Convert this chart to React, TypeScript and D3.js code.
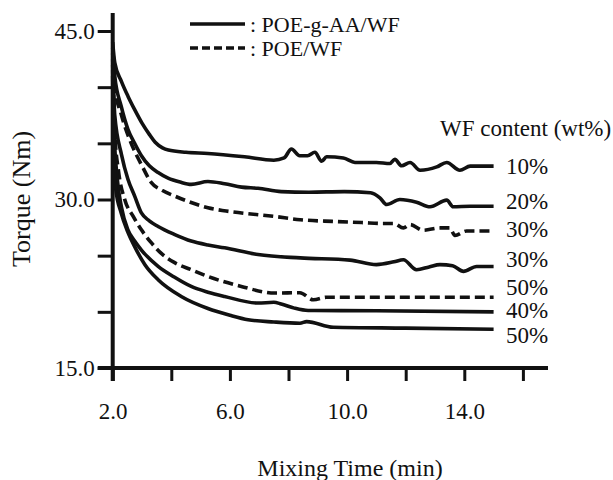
import { useEffect, useRef } from 'react';
import * as d3 from 'd3';

// mixing time (min) / torque (Nm)
const t10 = [2, 2.07, 2.3, 2.52, 2.75, 3.0, 3.25, 3.45, 3.7, 3.9, 4.5, 5.25, 6.5, 7.5, 7.85, 8.1, 8.38, 8.65, 8.9, 9.13, 9.3, 9.87, 10.27, 11.0, 11.46, 11.63, 11.86, 12.15, 12.49, 13.06, 13.4, 13.85, 14.2, 15];
const v10 = [44.0, 42.2, 40.5, 39.2, 38.0, 36.8, 35.8, 35.1, 34.6, 34.4, 34.2, 34.1, 33.8, 33.5, 33.7, 34.5, 33.9, 33.9, 34.2, 33.4, 33.8, 33.7, 33.3, 33.3, 33.2, 33.57, 33.0, 33.3, 32.6, 32.9, 33.3, 32.6, 32.97, 32.97];

const t20 = [2, 2.07, 2.29, 2.52, 2.75, 2.98, 3.25, 3.55, 3.89, 4.3, 4.68, 5.25, 5.82, 6.4, 6.96, 7.75, 8.7, 9.9, 10.8, 11.12, 11.35, 11.8, 12.37, 12.83, 13.4, 13.62, 14.2, 15];
const v20 = [43.5, 41.0, 38.3, 36.25, 35.0, 33.9, 33.0, 32.4, 31.9, 31.55, 31.35, 31.6, 31.4, 31.1, 31.0, 30.7, 30.65, 30.7, 30.6, 30.15, 29.55, 30.0, 29.76, 29.35, 29.94, 29.35, 29.4, 29.4];

const t30d = [2, 2.07, 2.3, 2.6, 3.0, 3.32, 3.7, 4.12, 4.6, 5.25, 5.8, 6.4, 7.5, 8.4, 9.5, 10.5, 11.24, 11.6, 11.92, 12.15, 12.6, 13.17, 13.5, 13.68, 14.08, 15];
const v30d = [43.0, 40.0, 37.5, 35.2, 33.0, 31.5, 30.8, 30.3, 29.8, 29.26, 29.0, 28.8, 28.5, 28.2, 28.05, 27.95, 27.86, 27.86, 27.47, 27.77, 27.26, 27.47, 27.47, 26.8, 27.2, 27.2];

const t30 = [2, 2.07, 2.3, 2.52, 2.75, 2.98, 3.25, 3.55, 4.1, 4.68, 5.25, 5.82, 6.96, 8.4, 10.1, 11.0, 11.6, 11.92, 12.37, 12.8, 13.17, 13.6, 13.97, 14.42, 15];
const v30 = [42.5, 37.5, 34.0, 31.8, 30.3, 28.8, 28.1, 27.6, 26.9, 26.3, 25.95, 25.7, 25.1, 24.8, 24.6, 24.2, 24.45, 24.64, 23.75, 24.0, 24.2, 24.1, 23.6, 24.04, 24.04];

const t50d = [2, 2.07, 2.2, 2.41, 2.7, 2.98, 3.3, 3.66, 4.1, 4.68, 5.25, 6.39, 7.53, 8.39, 8.85, 9.3, 12, 15];
const v50d = [42.0, 36.0, 32.5, 30.0, 28.5, 27.3, 26.2, 25.2, 24.4, 23.75, 23.15, 22.26, 21.67, 21.7, 21.07, 21.3, 21.3, 21.3];

const t40 = [2, 2.05, 2.15, 2.3, 2.52, 2.75, 2.98, 3.55, 4.1, 4.68, 5.25, 5.82, 6.96, 7.5, 7.75, 8.2, 8.67, 11, 15];
const v40 = [41.5, 36.0, 32.0, 29.3, 27.3, 26.3, 25.5, 24.05, 23.1, 22.26, 21.75, 21.37, 20.78, 20.85, 20.7, 20.33, 20.12, 20.1, 20.0];

const t50 = [2, 2.04, 2.1, 2.29, 2.5, 2.75, 3.1, 3.55, 4.34, 5.25, 6.0, 6.62, 7.5, 8.39, 8.62, 9.53, 12, 15];
const v50 = [41.0, 34.0, 31.0, 28.8, 27.2, 25.8, 24.2, 22.86, 21.37, 20.3, 19.7, 19.3, 19.1, 18.99, 19.13, 18.63, 18.55, 18.45];

// right-hand labels and where they sit (torque units)
const contentLabels = ['10%', '20%', '30%', '30%', '50%', '40%', '50%'];
const labelTorque = [32.95, 29.82, 27.32, 24.64, 22.14, 20.09, 17.86];

const xTicks = [2, 4, 6, 8, 10, 12, 14, 16];
const xTickLabels = [2, 6, 10, 14];
const yTicks = [15, 20, 25, 30, 35, 40, 45];
const yTickLabels = [15, 30, 45];

const FONT = '"Liberation Serif", "Times New Roman", serif';
const INK = '#111';

const series = [
  { t: t10, v: v10, dashed: false },
  { t: t20, v: v20, dashed: false },
  { t: t30d, v: v30d, dashed: true },
  { t: t30, v: v30, dashed: false },
  { t: t50d, v: v50d, dashed: true },
  { t: t40, v: v40, dashed: false },
  { t: t50, v: v50, dashed: false },
];

export default function App() {
  const xAxisRef = useRef<SVGGElement>(null);
  const yAxisRef = useRef<SVGGElement>(null);

  const x = d3.scaleLinear().domain([2, 16]).range([112.7, 522.9]);
  const y = d3.scaleLinear().domain([15, 45]).range([368, 31]);

  const line = d3
    .line<[number, number]>()
    .x((d) => x(d[0]))
    .y((d) => y(d[1]))
    .curve(d3.curveMonotoneX);

  useEffect(() => {
    const gx = d3.select(xAxisRef.current);
    gx.selectAll('*').remove();
    gx.call(
      d3
        .axisBottom(x)
        .tickValues(xTicks)
        .tickSize(13)
        .tickSizeOuter(0)
        .tickPadding(22)
        .tickFormat((d: any) => (xTickLabels.includes(d) ? d.toFixed(1) : ''))
    );
    gx.select('.domain').remove();
    gx.selectAll('line').attr('stroke', INK).attr('stroke-width', 3);
    gx.selectAll('text').attr('font-family', FONT).attr('font-size', 23).attr('fill', INK);

    const gy = d3.select(yAxisRef.current);
    gy.selectAll('*').remove();
    gy.call(
      d3
        .axisLeft(y)
        .tickValues(yTicks)
        .tickSize(15)
        .tickSizeOuter(0)
        .tickPadding(3)
        .tickFormat((d: any) => (yTickLabels.includes(d) ? d.toFixed(1) : ''))
    );
    gy.select('.domain').remove();
    gy.selectAll('line').attr('stroke', INK).attr('stroke-width', 3);
    gy.selectAll('text').attr('font-family', FONT).attr('font-size', 23).attr('fill', INK);
    return () => {
      gx.selectAll('*').remove();
      gy.selectAll('*').remove();
    };
  }, []);

  return (
    <svg
      width={613}
      height={480}
      viewBox="0 0 613 480"
      style={{ position: 'absolute', left: 0, top: 0, background: '#fff' }}
    >
      <g ref={xAxisRef} transform={`translate(0, ${y(15)})`} />
      <g ref={yAxisRef} transform={`translate(${x(2)}, 0)`} />
      {/* axis lines, drawn a little past the scale ends like the original */}
      <line x1={x(2)} x2={x(2)} y1={13} y2={y(15) + 13} stroke={INK} strokeWidth={4} />
      <line x1={x(2) - 15} x2={548} y1={y(15)} y2={y(15)} stroke={INK} strokeWidth={4} />

      <g fill="none" stroke={INK} strokeWidth={3.6} strokeLinejoin="round">
        {series.map((s, i) => (
          <path
            key={i}
            d={line(s.t.map((t, j) => [t, s.v[j]] as [number, number])) || ''}
            strokeDasharray={s.dashed ? '10,5' : undefined}
          />
        ))}
      </g>

      <g fontFamily={FONT} fill={INK}>
        {contentLabels.map((lab, i) => (
          <text key={i} x={506} y={y(labelTorque[i])} fontSize={23} dominantBaseline="central">
            {lab}
          </text>
        ))}
        <text x={440} y={136} fontSize={23}>
          WF content (wt%)
        </text>

        <line x1={190} x2={245} y1={24} y2={24} stroke={INK} strokeWidth={3.6} />
        <text x={250} y={32} fontSize={22}>
          : POE-g-AA/WF
        </text>
        <line x1={190} x2={245} y1={48} y2={48} stroke={INK} strokeWidth={3.6} strokeDasharray="8,4" />
        <text x={250} y={56} fontSize={22}>
          : POE/WF
        </text>

        <text x={350} y={476} fontSize={24} textAnchor="middle">
          Mixing Time (min)
        </text>
        <text
          transform="translate(21, 199) rotate(-90)"
          fontSize={26}
          textAnchor="middle"
          dominantBaseline="central"
        >
          Torque (Nm)
        </text>
      </g>
    </svg>
  );
}
